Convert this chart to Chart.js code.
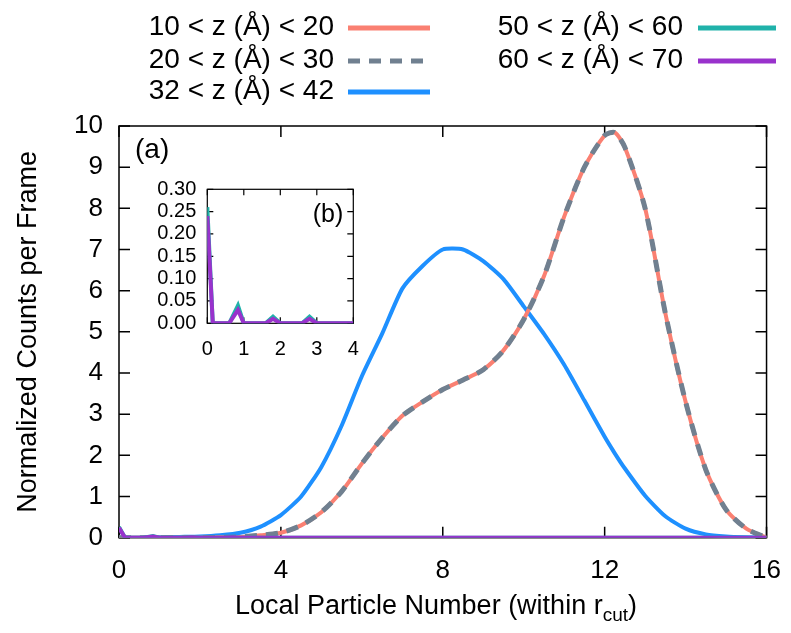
<!DOCTYPE html>
<html>
<head>
<meta charset="utf-8">
<script src="https://cdn.jsdelivr.net/npm/chart.js@4.4.0/dist/chart.umd.min.js"></script>
<style>
html, body { margin: 0; padding: 0; background: #fff; }
#wrap { position: relative; width: 791px; height: 633px; overflow: hidden; }
#main { position: absolute; left: 0; top: 0; }
#inset { position: absolute; left: 140px; top: 170px; }
</style>
</head>
<body>
<div id="wrap">
  <canvas id="main" width="791" height="633"></canvas>
  <canvas id="inset" width="230" height="200"></canvas>
</div>
<script>
// values
var xMain = [0, 0.5, 1, 1.5, 2, 2.5, 3, 3.5, 4, 4.5, 5, 5.5, 6, 6.5, 7, 7.5, 8, 8.5, 9, 9.5,
             10, 10.5, 11, 11.5, 12, 12.25, 12.5, 13, 13.5, 14, 14.5, 15, 15.5, 16];
var red1020 = [0, 0, 0, 0, 0, 0.01, 0.02, 0.06, 0.12, 0.3, 0.62, 1.12, 1.8, 2.42, 2.96, 3.3, 3.6, 3.83, 4.08, 4.55,
               5.3, 6.35, 7.8, 9.0, 9.77, 9.84, 9.48, 8.0, 5.45, 3.3, 1.65, 0.68, 0.22, 0];
var gray2030 = [0, 0, 0, 0, 0, 0.01, 0.02, 0.06, 0.12, 0.3, 0.62, 1.12, 1.8, 2.42, 2.96, 3.3, 3.6, 3.83, 4.08, 4.55,
                5.3, 6.35, 7.8, 9.0, 9.77, 9.84, 9.48, 8.0, 5.45, 3.3, 1.65, 0.68, 0.22, 0];
var blue3242 = [0, 0, 0.01, 0.02, 0.03, 0.06, 0.12, 0.27, 0.55, 1.0, 1.72, 2.72, 3.92, 4.95, 6.05, 6.6, 7.0, 7.0, 6.72, 6.28,
                5.62, 4.95, 4.2, 3.33, 2.45, 2.05, 1.68, 1.02, 0.52, 0.22, 0.08, 0.03, 0.01, 0];
var xLow = [0, 0.15, 0.6, 0.84, 1.0, 1.6, 1.8, 2.0, 2.6, 2.8, 3.0, 4, 16];
var teal5060 = [0.26, 0, 0, 0.04, 0, 0, 0.015, 0, 0, 0.015, 0, 0, 0];
var purple6070 = [0.24, 0, 0, 0.03, 0, 0, 0.01, 0, 0, 0.01, 0, 0, 0];

var seriesLabels = ['10 < z (Å) < 20', '20 < z (Å) < 30', '32 < z (Å) < 42', '50 < z (Å) < 60', '60 < z (Å) < 70'];
var mainXTicks = [0, 4, 8, 12, 16];
var mainYTicks = [0, 1, 2, 3, 4, 5, 6, 7, 8, 9, 10];
var insetXTicks = [0, 1, 2, 3, 4];
var insetYTicks = [0, 0.05, 0.1, 0.15, 0.2, 0.25, 0.3];

var FONT = '"Liberation Sans", Arial, Helvetica, sans-serif';
var colors = ['#fa8072', '#708090', '#1e90ff', '#20b2aa', '#9932cc'];

function pts(xs, ys) {
  return xs.map(function (x, i) { return { x: x, y: ys[i] }; });
}

// box + inward ticks on all four sides, plus panel tag
var framePlugin = {
  id: 'frame',
  beforeDatasetsDraw: function (chart, args, o) {
    var a = chart.chartArea, ctx = chart.ctx;
    var xs = chart.scales.x, ys = chart.scales.y;
    ctx.save();
    ctx.strokeStyle = '#000';
    ctx.lineWidth = o.lw;
    ctx.strokeRect(a.left, a.top, a.right - a.left, a.bottom - a.top);
    ctx.beginPath();
    o.xt.forEach(function (v) {
      var p = xs.getPixelForValue(v);
      ctx.moveTo(p, a.bottom); ctx.lineTo(p, a.bottom - o.len);
      ctx.moveTo(p, a.top); ctx.lineTo(p, a.top + o.len);
    });
    o.yt.forEach(function (v) {
      var p = ys.getPixelForValue(v);
      ctx.moveTo(a.left, p); ctx.lineTo(a.left + o.len, p);
      ctx.moveTo(a.right, p); ctx.lineTo(a.right - o.len, p);
    });
    ctx.stroke();
    ctx.restore();
  },
  afterDraw: function (chart, args, o) {
    var ctx = chart.ctx, a = chart.chartArea;
    ctx.save();
    ctx.fillStyle = '#000';
    ctx.textBaseline = 'middle';
    ctx.font = o.tagSize + 'px ' + FONT;
    ctx.textAlign = o.tagAlign;
    ctx.fillText(o.tag, o.tagAlign === 'left' ? a.left + o.tagDx : a.right - o.tagDx, a.top + o.tagDy);
    ctx.restore();
  }
};

// legend and x title for the main panel
var extrasPlugin = {
  id: 'extras',
  afterDraw: function (chart) {
    var ctx = chart.ctx;
    ctx.save();
    ctx.fillStyle = '#000';
    ctx.textBaseline = 'middle';
    ctx.font = '28px ' + FONT;
    ctx.textAlign = 'right';
    var rows = [27, 60, 91];
    var cols = [{ tx: 334, l0: 348, l1: 430 }, { tx: 683, l0: 698, l1: 776 }];
    var items = [[0, 0, 0], [1, 0, 1], [2, 0, 2], [3, 1, 0], [4, 1, 1]];
    items.forEach(function (it) {
      var c = cols[it[1]], y = rows[it[2]];
      ctx.fillText(seriesLabels[it[0]], c.tx, y);
      ctx.beginPath();
      ctx.strokeStyle = colors[it[0]];
      ctx.lineWidth = 5;
      ctx.setLineDash(it[0] === 1 ? [12, 9] : []);
      ctx.moveTo(c.l0, y + 1); ctx.lineTo(c.l1, y + 1);
      ctx.stroke();
    });
    ctx.setLineDash([]);
    // x axis title with subscript
    var big = '27px ' + FONT, small = '19px ' + FONT;
    var t1 = 'Local Particle Number (within r', t2 = 'cut', t3 = ')';
    ctx.font = big; var w1 = ctx.measureText(t1).width, w3 = ctx.measureText(t3).width;
    ctx.font = small; var w2 = ctx.measureText(t2).width;
    var x0 = 436 - (w1 + w2 + w3) / 2, y0 = 607;
    ctx.textAlign = 'left';
    ctx.font = big; ctx.fillText(t1, x0, y0);
    ctx.font = small; ctx.fillText(t2, x0 + w1, y0 + 9);
    ctx.font = big; ctx.fillText(t3, x0 + w1 + w2, y0);
    ctx.restore();
  }
};

new Chart(document.getElementById('main'), {
  type: 'line',
  data: {
    datasets: [
      { label: seriesLabels[4], data: pts(xLow, purple6070), borderColor: colors[4], borderWidth: 4, tension: 0, order: 0 },
      { label: seriesLabels[3], data: pts(xLow, teal5060), borderColor: colors[3], borderWidth: 4, tension: 0, order: 1 },
      { label: seriesLabels[1], data: pts(xMain, gray2030), borderColor: colors[1], borderWidth: 5, borderDash: [12, 9], tension: 0.25, order: 2 },
      { label: seriesLabels[0], data: pts(xMain, red1020), borderColor: colors[0], borderWidth: 4, tension: 0.25, order: 3 },
      { label: seriesLabels[2], data: pts(xMain, blue3242), borderColor: colors[2], borderWidth: 4, tension: 0.2, order: 4 }
    ]
  },
  options: {
    responsive: false,
    animation: false,
    elements: { point: { radius: 0 } },
    layout: { padding: { top: 126, right: 23, left: 0, bottom: 0 } },
    plugins: {
      legend: { display: false },
      tooltip: { enabled: false },
      frame: { lw: 1.5, len: 11, xt: mainXTicks, yt: mainYTicks, tag: '(a)', tagSize: 28, tagAlign: 'left', tagDx: 16, tagDy: 24 }
    },
    scales: {
      x: {
        type: 'linear', min: 0, max: 16,
        grid: { display: false }, border: { display: false },
        ticks: { stepSize: 4, color: '#000', font: { family: FONT, size: 26 }, padding: 10, maxRotation: 0 },
        afterFit: function (s) { s.height = 95.3; }
      },
      y: {
        min: 0, max: 10,
        grid: { display: false }, border: { display: false },
        ticks: { stepSize: 1, color: '#000', font: { family: FONT, size: 26 }, padding: 8 },
        title: { display: true, text: 'Normalized Counts per Frame', color: '#000', font: { family: FONT, size: 27 }, padding: { top: 12, bottom: 0 } },
        afterFit: function (s) { s.width = 119; }
      }
    }
  },
  plugins: [framePlugin, extrasPlugin]
});

new Chart(document.getElementById('inset'), {
  type: 'line',
  data: {
    datasets: [
      { label: seriesLabels[4], data: pts(xLow, purple6070), borderColor: colors[4], borderWidth: 4, tension: 0, order: 0 },
      { label: seriesLabels[3], data: pts(xLow, teal5060), borderColor: colors[3], borderWidth: 4, tension: 0, order: 1 }
    ]
  },
  options: {
    responsive: false,
    animation: false,
    elements: { point: { radius: 0 } },
    layout: { padding: { top: 19.3, right: 16.7, left: 0, bottom: 0 } },
    plugins: {
      legend: { display: false },
      tooltip: { enabled: false },
      frame: { lw: 1.2, len: 6, xt: insetXTicks, yt: insetYTicks, tag: '(b)', tagSize: 25, tagAlign: 'right', tagDx: 10, tagDy: 26 }
    },
    scales: {
      x: {
        type: 'linear', min: 0, max: 4,
        grid: { display: false }, border: { display: false },
        ticks: { stepSize: 1, autoSkip: false, color: '#000', font: { family: FONT, size: 20 }, padding: 6, maxRotation: 0 },
        afterFit: function (s) { s.height = 46.7; }
      },
      y: {
        min: 0, max: 0.3,
        grid: { display: false }, border: { display: false },
        ticks: { stepSize: 0.05, autoSkip: false, color: '#000', font: { family: FONT, size: 20 }, padding: 3,
                 callback: function (v) { return v.toFixed(2); } },
        afterFit: function (s) { s.width = 67.3; }
      }
    }
  },
  plugins: [framePlugin]
});
</script>
</body>
</html>
